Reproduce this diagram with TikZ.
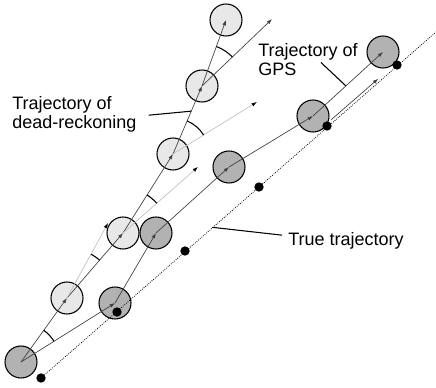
\documentclass[tikz,border=0pt]{standalone}
\usepackage{fontspec}
\setmainfont{Liberation Sans}
\usetikzlibrary{arrows.meta, calc}

\begin{document}
\begin{tikzpicture}[x=0.75pt, y=0.75pt,
  drcirc/.style={circle, draw, line width=0.8pt, fill=gray!18, minimum size=24pt, inner sep=0pt},
  gpscirc/.style={circle, draw, line width=0.8pt, fill=gray!60, minimum size=24pt, inner sep=0pt},
  truedot/.style={circle, fill=black, minimum size=7pt, inner sep=0pt},
  track/.style={line width=0.5pt, black!75, -{Latex[length=4pt, width=2.8pt]}},
  heading/.style={line width=0.5pt, black!25, -{Latex[length=4pt, width=2.8pt, black]}},
  anglearc/.style={line width=0.8pt},
  leader/.style={line width=0.8pt},
  lbl/.style={font=\fontsize{13.5}{14.3}\selectfont, align=left, inner sep=0pt}
]
\useasboundingbox (0,0) rectangle (436,387);

% GPS positions
\foreach \n/\x/\y in {0/21/25, 1/115/84, 2/156/154, 3/229/220, 4/313/271, 5/383/335}
    \node[gpscirc] (G\n) at (\x,\y) {};

% Dead-reckoning positions
\foreach \n/\x/\y in {1/67/89, 2/123/154, 3/173/233, 4/202/301, 5/226/367}
    \node[drcirc] (D\n) at (\x,\y) {};

% True positions
\foreach \n/\x/\y in {0/41/9, 1/117/75, 2/185/136, 3/259/200, 4/327/261, 5/397/322}
    \node[truedot] (T\n) at (\x,\y) {};

% True trajectory
\coordinate (Tend) at (436,355);
\draw[densely dotted, line width=0.6pt] (T0.center) -- (Tend);
\draw[track] ($(T4.center)!0.08!(T5.center)+(-1.3,1.5)$) -- ($(T4.center)!0.75!(T5.center)+(-1.3,1.5)$);

% Trajectory of GPS
\foreach \a/\b in {0/1, 1/2, 2/3, 3/4, 4/5}
    \draw[track] (G\a.center) -- (G\b.center);

% Trajectory of dead-reckoning
\draw[track] (G0.center) -- (D1.center);
\foreach \a/\b in {1/2, 2/3, 3/4, 4/5}
    \draw[track] (D\a.center) -- (D\b.center);

% GPS headings at each dead-reckoning point
\foreach \p/\a/\l in {D1/61.3/85.5, D2/41.4/99.9, D3/31.8/98.8} {
    \coordinate (H\p) at ($(\p.center)+(\a:\l)$);
    \draw[heading] (\p.center) -- (H\p);
}
\coordinate (HD4) at ($(D4.center)+(43.7:96.9)$);
\draw[track] (D4.center) -- (HD4);

% Angle marks
\foreach \p/\a/\b/\r in {G0/32.1/54.3/39, D1/49.3/61.3/50, D2/41.4/57.7/45, D3/31.8/66.9/36, D4/43.7/70.0/42}
    \draw[anglearc] ($(\p.center)+(\a:\r)$) arc[start angle=\a, end angle=\b, radius=\r];

% Labels
\node[lbl, anchor=north west] (lblDR) at (12,291) {Trajectory of\\dead-reckoning};
\node[lbl, anchor=north west] (lblGPS) at (258,344) {Trajectory of\\GPS};
\node[lbl, anchor=north west] (lblTrue) at (288,155) {True trajectory};

% Leaders
\coordinate (drPt) at ($(D3.center)!0.63!(D4.center)$);
\coordinate (gpsPt) at ($(G4.center)!0.47!(G5.center)$);
\coordinate (truePt) at ($(T2.center)!0.37!(T3.center)$);
\draw[leader] ($(lblDR.east)+(12,-1)$) -- (drPt);
\draw[leader] ($(lblGPS.east)+(-37,-3)$) -- (gpsPt);
\draw[leader] ($(lblTrue.west)+(-6,5.5)$) -- (truePt);

\end{tikzpicture}
\end{document}
